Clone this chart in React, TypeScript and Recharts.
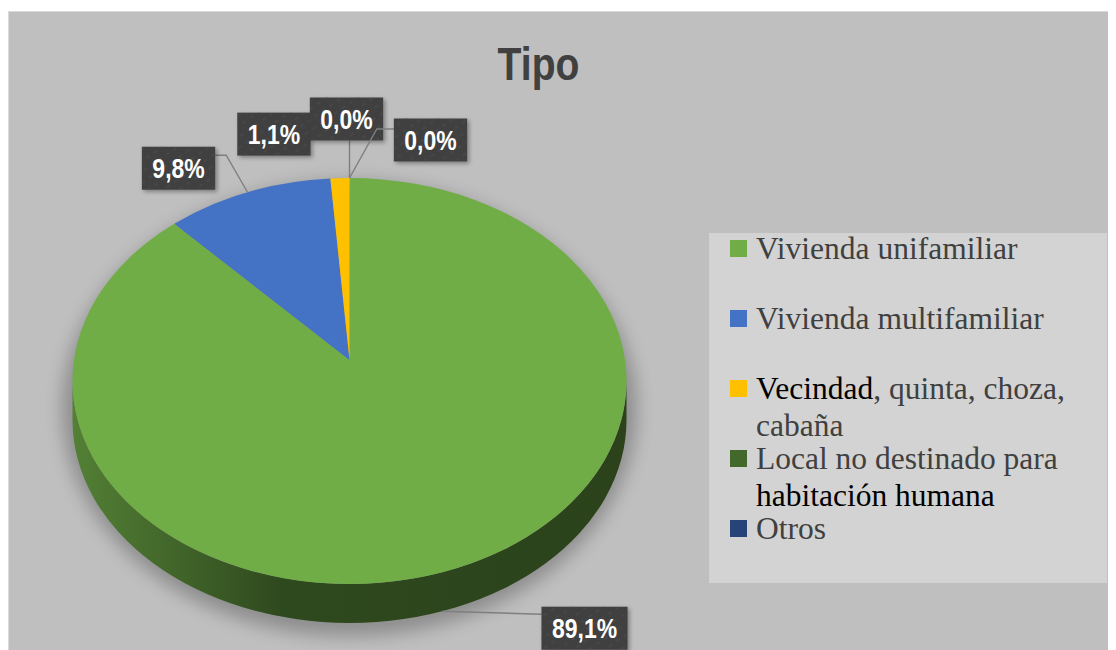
import { PieChart, Pie, Cell, Legend } from "recharts"

const categories = [
  "Vivienda unifamiliar",
  "Vivienda multifamiliar",
  "Vecindad, quinta, choza, cabaña",
  "Local no destinado para habitación humana",
  "Otros",
]
const shares = [89.1, 9.8, 1.1, 0.0, 0.0]
const colors = ["#70ad47", "#4472c4", "#ffc000", "#43682b", "#264478"]
// parts of the legend text that the original shows in black
const legendEmphasis = ["", "", "Vecindad", "habitación humana", ""]

// where each data label box sits relative to its slice's rim point
const labelPlacement = [
  { dx: 142, dy: 17, side: "left", ay: -14, elbow: 0 },
  { dx: -69, dy: -24, side: "right", ay: -13, elbow: 11 },
  { dx: -66, dy: -44, side: "none", ay: 0, elbow: 0 },
  { dx: -3, dy: -59, side: "bottom", ay: 0, elbow: 0 },
  { dx: 81, dy: -38, side: "left", ay: -11, elbow: 17 },
]

const data = categories.map((name, i) => ({ name, value: shares[i] }))

const RAD = Math.PI / 180
const TILT = 203 / 277
const DEPTH = 39
const APEX_LIFT = 21
const FONT = '"Liberation Sans", Arial, sans-serif'

function ellipsePoint(cx: number, cy: number, rx: number, ry: number, deg: number) {
  return [cx + rx * Math.cos(deg * RAD), cy - ry * Math.sin(deg * RAD)]
}

function shade(hex: string, f: number) {
  const n = parseInt(hex.slice(1), 16)
  const r = Math.round(((n >> 16) & 255) * f)
  const g = Math.round(((n >> 8) & 255) * f)
  const b = Math.round((n & 255) * f)
  return `rgb(${r},${g},${b})`
}

function renderSlice(props: any) {
  const { cx, cy, outerRadius, startAngle, endAngle } = props
  const idx = categories.indexOf(props.name ?? props.payload?.name)
  const fill = colors[idx] ?? props.fill
  const rx = outerRadius
  const ry = outerRadius * TILT
  const span = Math.abs(startAngle - endAngle)
  const sides: string[] = []
  let top = ""

  if (span > 0.001) {
    const lo = Math.min(startAngle, endAngle)
    const hi = Math.max(startAngle, endAngle)
    for (const [f0, f1] of [[-540, -360], [-180, 0], [180, 360]]) {
      const a = Math.max(lo, f0)
      const b = Math.min(hi, f1)
      if (b - a > 0.001) {
        const p1 = ellipsePoint(cx, cy, rx, ry, b)
        const p2 = ellipsePoint(cx, cy, rx, ry, a)
        sides.push(
          `M${p1[0]},${p1[1]} A${rx},${ry} 0 0 1 ${p2[0]},${p2[1]} L${p2[0]},${p2[1] + DEPTH} A${rx},${ry} 0 0 0 ${p1[0]},${p1[1] + DEPTH} Z`
        )
      }
    }
    const s = ellipsePoint(cx, cy, rx, ry, startAngle)
    const e = ellipsePoint(cx, cy, rx, ry, endAngle)
    const large = span > 180 ? 1 : 0
    const sweep = startAngle > endAngle ? 1 : 0
    top = `M${cx},${cy - APEX_LIFT} L${s[0]},${s[1]} A${rx},${ry} 0 ${large} ${sweep} ${e[0]},${e[1]} Z`
  }

  return (
    <g>
      {idx === 0 && (
        <>
          <defs>
            <filter id="pieShadow" x="-20%" y="-20%" width="140%" height="140%">
              <feGaussianBlur stdDeviation="9" />
            </filter>
            {colors.map((c, i) => (
              <linearGradient key={i} id={`side-${i}`} gradientUnits="userSpaceOnUse" x1={cx - rx} x2={cx + rx} y1={0} y2={0}>
                <stop offset="0" stopColor={shade(c, 0.74)} />
                <stop offset="0.38" stopColor={shade(c, 0.42)} />
                <stop offset="1" stopColor={shade(c, 0.38)} />
              </linearGradient>
            ))}
          </defs>
          <ellipse cx={cx} cy={cy + 28} rx={rx + 10} ry={ry + 24} fill="#000" opacity={0.26} filter="url(#pieShadow)" />
        </>
      )}
      {sides.map((d, i) => (
        <path key={i} d={d} fill={`url(#side-${idx})`} stroke="none" />
      ))}
      {top && <path d={top} fill={fill} stroke="none" />}
    </g>
  )
}

function labelWidth(text: string) {
  let em = 0
  for (const ch of text) em += ch === "," ? 0.278 : ch === "%" ? 0.889 : 0.556
  return em * 28 * 0.82
}

function renderLabel(props: any) {
  const { cx, cy, outerRadius, midAngle } = props
  const i = typeof props.index === "number" ? props.index : categories.indexOf(props.name)
  const place = labelPlacement[i]
  const value = typeof props.value === "number" ? props.value : shares[i]
  const rx = outerRadius
  const ry = outerRadius * TILT
  let [x, y] = ellipsePoint(cx, cy, rx, ry, midAngle)
  if (Math.sin(midAngle * RAD) < -0.01) y += DEPTH
  const text = `${value.toFixed(1).replace(".", ",")}%`
  const w = labelWidth(text) + 21
  const h = 43
  const bx = x + place.dx
  const by = y + place.dy
  const left = bx - w / 2
  const topY = by - h / 2

  let line = ""
  if (place.side === "left") {
    const py = by + place.ay
    line = `M${x},${y} L${left - place.elbow},${py} L${left},${py}`
  } else if (place.side === "right") {
    const py = by + place.ay
    line = `M${x},${y} L${left + w + place.elbow},${py} L${left + w},${py}`
  } else if (place.side === "bottom") {
    line = `M${x},${topY + h} L${x},${y}`
  }

  return (
    <g key={`lbl-${i}`}>
      {line && <path d={line} fill="none" stroke="#7f7f7f" strokeWidth={1.4} />}
      <rect x={left} y={topY} width={w} height={h} fill="#404040" filter="url(#boxShadow)" />
      <rect x={left} y={topY} width={w} height={h} fill="url(#boxTexture)" />
      <text
        x={0}
        y={0}
        transform={`translate(${bx},${by + 10}) scale(0.82,1)`}
        textAnchor="middle"
        fontFamily={FONT}
        fontWeight="bold"
        fontSize={28}
        fill="#ffffff"
      >
        {text}
      </text>
    </g>
  )
}

function LegendName({ name, i }: { name: string; i: number }) {
  const em = legendEmphasis[i]
  if (!em || !name.includes(em)) return <>{name}</>
  const at = name.indexOf(em)
  return (
    <>
      {name.slice(0, at)}
      <span style={{ color: "#000000" }}>{em}</span>
      {name.slice(at + em.length)}
    </>
  )
}

function LegendBox({ payload }: { payload?: any[] }) {
  // keep the data order (the library sorts legend items by name)
  const items = [...(payload ?? [])].sort(
    (a, b) => categories.indexOf(String(a.value)) - categories.indexOf(String(b.value))
  )
  return (
    <div style={{ position: "relative", width: 398, height: 350, background: "#d3d3d3" }}>
      {items.map((item, k) => {
        const i = categories.indexOf(String(item.value))
        return (
          <div key={k} style={{ position: "absolute", left: 0, top: -3 + 70 * k, width: "100%" }}>
            <span
              style={{ position: "absolute", left: 21, top: 10, width: 17, height: 17, background: colors[i] }}
            />
            <div
              style={{
                position: "absolute",
                left: 47,
                top: 0,
                width: 345,
                fontFamily: '"Liberation Serif", "Times New Roman", serif',
                fontSize: 31.5,
                lineHeight: "37px",
                color: "#404040",
                whiteSpace: "normal",
              }}
            >
              <LegendName name={String(item.value)} i={i} />
            </div>
          </div>
        )
      })}
    </div>
  )
}

export default function App() {
  return (
    <div style={{ position: "relative", width: 1108, height: 642 }}>
      <div
        style={{
          position: "absolute",
          left: 0,
          top: 3,
          width: 1108,
          height: 639,
          background: "#bfbfbf",
          borderLeft: "1px solid #dadada",
          borderTop: "1px solid #dadada",
          boxSizing: "border-box",
        }}
      />
      <div style={{ position: "absolute", left: 0, top: 0 }}>
        <PieChart width={1108} height={642} margin={{ top: 0, right: 0, bottom: 0, left: 0 }}>
          <defs>
            <filter id="boxShadow" x="-20%" y="-20%" width="150%" height="150%">
              <feDropShadow dx="2" dy="2" stdDeviation="2" floodColor="#000" floodOpacity="0.35" />
            </filter>
            <pattern id="boxTexture" width="9" height="9" patternUnits="userSpaceOnUse" patternTransform="rotate(-35)">
              <line x1="0" y1="4" x2="4" y2="4" stroke="#4e4e4e" strokeWidth="1" />
            </pattern>
          </defs>
          <text
            x={0}
            y={0}
            transform="translate(530.5,72) scale(0.85,1)"
            textAnchor="middle"
            fontFamily={FONT}
            fontWeight="bold"
            fontSize={46}
            fill="#404040"
          >
            Tipo
          </text>
          <Pie
            data={data}
            dataKey="value"
            nameKey="name"
            cx={341.5}
            cy={373}
            outerRadius={277}
            startAngle={90}
            endAngle={-270}
            stroke="none"
            isAnimationActive={false}
            shape={renderSlice}
            label={renderLabel}
            labelLine={false}
          >
            {colors.map((c, i) => (
              <Cell key={i} fill={c} />
            ))}
          </Pie>
          <Legend
            layout="vertical"
            align="right"
            verticalAlign="top"
            itemSorter={null as any}
            wrapperStyle={{ left: 701, top: 225, right: "auto", width: 398, height: 350 }}
            content={(p: any) => <LegendBox payload={p.payload} />}
          />
        </PieChart>
      </div>
    </div>
  )
}
